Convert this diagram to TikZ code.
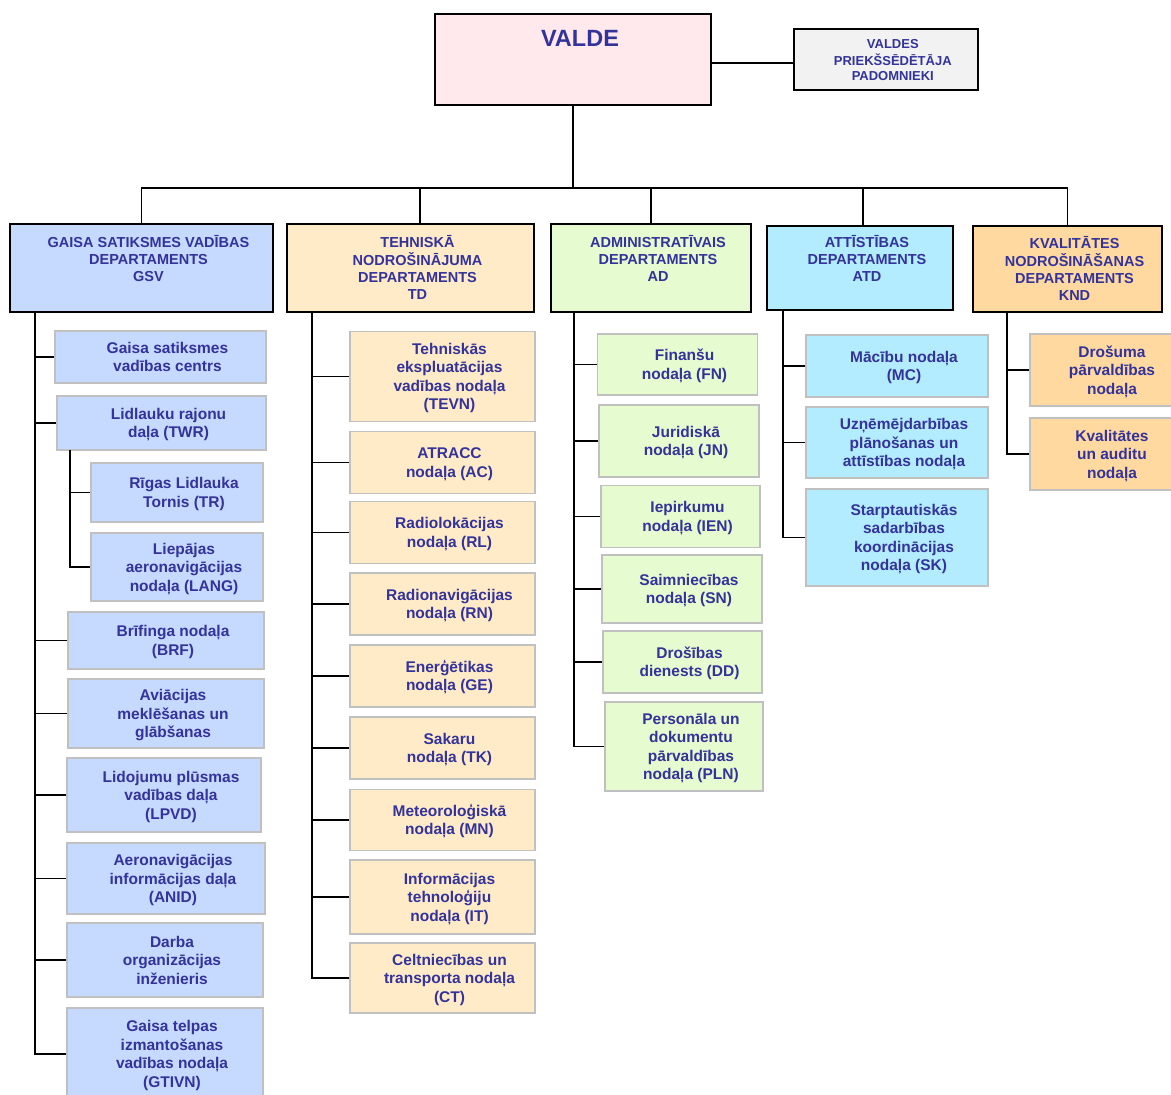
\documentclass[tikz,border=0pt]{standalone}
\usepackage{fontspec}
\setmainfont{Liberation Sans}
\usepackage{xcolor}
\usepackage{tikz}
\usetikzlibrary{positioning}
\definecolor{txtblue}{HTML}{333399}
\definecolor{valdepink}{HTML}{FFE9EC}
\definecolor{advgray}{HTML}{F2F2F2}
\definecolor{subgray}{HTML}{C0C0C0}
\definecolor{gsvblue}{HTML}{C6D9FF}
\definecolor{tdcream}{HTML}{FFEBC8}
\definecolor{adgreen}{HTML}{E6FBD0}
\definecolor{atdcyan}{HTML}{B3EBFF}
\definecolor{kndorange}{HTML}{FFD9A0}
\newcommand{\boxtext}[1]{\hspace*{14pt}\raisebox{-2pt}[\height][\depth]{\begin{tabular}{@{}c@{}}#1\end{tabular}}}
\tikzset{
	board/.style={draw=black, line width=1.8pt, fill=valdepink, text=txtblue, inner sep=0pt, minimum width=276, text height=32, text depth=59, font=\bfseries\fontsize{23.5}{26}\selectfont},
	advisor/.style={draw=black, line width=1.8pt, fill=advgray, text=txtblue, inner sep=0pt, minimum width=184, minimum height=61, font=\bfseries\fontsize{13}{15.5}\selectfont},
	dept/.style={draw=black, line width=1.8pt, fill=#1, text=txtblue, inner sep=0pt, minimum height=88, font=\bfseries\fontsize{14.5}{17}\selectfont},
	sub/.style={draw=subgray, line width=1.8pt, fill=#1, text=txtblue, inner sep=0pt, font=\bfseries\fontsize{15.5}{18.5}\selectfont},
	link/.style={draw=black, line width=1.6pt}
}

\begin{document}
\begin{tikzpicture}[x=1pt, y=-1pt]
			\useasboundingbox (0,0) rectangle (1171,1095);
			\clip (0,0) rectangle (1171,1095);
			
			\node[board] (valde) at (573,59.5) {\hspace*{14pt}VALDE};
			\node[advisor, right=81pt of valde] (adv) {\boxtext{VALDES\\PRIEKŠSĒDĒTĀJA\\PADOMNIEKI}};
			
			% departments
			\node[dept=gsvblue, minimum width=263] (gsv) at (141.5,268) {\boxtext{GAISA SATIKSMES VADĪBAS\\DEPARTAMENTS\\GSV\\\phantom{X}}};
			\node[dept=tdcream, minimum width=247] (td) at (410.5,268) {\boxtext{TEHNISKĀ\\NODROŠINĀJUMA\\DEPARTAMENTS\\TD}};
			\node[dept=adgreen, minimum width=200] (ad) at (651,268) {\boxtext{ADMINISTRATĪVAIS\\DEPARTAMENTS\\AD\\\phantom{X}}};
			\node[dept=atdcyan, minimum width=186, minimum height=84] (atd) at (860,268) {\boxtext{ATTĪSTĪBAS\\DEPARTAMENTS\\ATD\\\phantom{X}}};
			\node[dept=kndorange, minimum width=189, minimum height=86] (knd) at (1067.5,269) {\boxtext{KVALITĀTES\\NODROŠINĀŠANAS\\DEPARTAMENTS\\KND}};
			
			% GSV
			\node[sub=gsvblue, minimum width=211, minimum height=52] (gsvc) at (160.5,357) {\boxtext{Gaisa satiksmes\\vadības centrs}};
			\node[sub=gsvblue, minimum width=209, minimum height=54] (twr) at (161.5,423) {\boxtext{Lidlauku rajonu\\daļa (TWR)}};
			\node[sub=gsvblue, minimum width=172, minimum height=59] (tr) at (177,492.5) {\boxtext{Rīgas Lidlauka\\Tornis (TR)}};
			\node[sub=gsvblue, minimum width=172, minimum height=68, below=9pt of tr] (lang) {\boxtext{Liepājas\\aeronavigācijas\\nodaļa (LANG)}};
			\node[sub=gsvblue, minimum width=196, minimum height=57] (brf) at (166,640.5) {\boxtext{Brīfinga nodaļa\\(BRF)}};
			\node[sub=gsvblue, minimum width=196, minimum height=69] (ams) at (166,713.5) {\boxtext{Aviācijas\\meklēšanas un\\glābšanas}};
			\node[sub=gsvblue, minimum width=194, minimum height=74] (lpvd) at (164,795) {\boxtext{Lidojumu plūsmas\\vadības daļa\\(LPVD)}};
			\node[sub=gsvblue, minimum width=198, minimum height=71] (anid) at (166,878.5) {\boxtext{Aeronavigācijas\\informācijas daļa\\(ANID)}};
			\node[sub=gsvblue, minimum width=196, minimum height=74] (doi) at (165,960) {\boxtext{Darba\\organizācijas\\inženieris}};
			\node[sub=gsvblue, minimum width=196, minimum height=92] (gtivn) at (165,1054) {\boxtext{Gaisa telpas\\izmantošanas\\vadības nodaļa\\(GTIVN)}};
			
			% TD
			\node[sub=tdcream, minimum width=185, minimum height=90] (tevn) at (442.5,376.5) {\boxtext{Tehniskās\\ekspluatācijas\\vadības nodaļa\\(TEVN)}};
			\node[sub=tdcream, minimum width=185, minimum height=62] (ac) at (442.5,462.5) {\boxtext{ATRACC\\nodaļa (AC)}};
			\node[sub=tdcream, minimum width=185, minimum height=62] (rl) at (442.5,532.5) {\boxtext{Radiolokācijas\\nodaļa (RL)}};
			\node[sub=tdcream, minimum width=185, minimum height=62] (rn) at (442.5,604) {\boxtext{Radionavigācijas\\nodaļa (RN)}};
			\node[sub=tdcream, minimum width=185, minimum height=62] (ge) at (442.5,676) {\boxtext{Enerģētikas\\nodaļa (GE)}};
			\node[sub=tdcream, minimum width=185, minimum height=62] (tk) at (442.5,748) {\boxtext{Sakaru\\nodaļa (TK)}};
			\node[sub=tdcream, minimum width=185, minimum height=61] (mn) at (442.5,820) {\boxtext{Meteoroloģiskā\\nodaļa (MN)}};
			\node[sub=tdcream, minimum width=185, minimum height=74] (it) at (442.5,897) {\boxtext{Informācijas\\tehnoloģiju\\nodaļa (IT)}};
			\node[sub=tdcream, minimum width=185, minimum height=70] (ct) at (442.5,978) {\boxtext{Celtniecības un\\transporta nodaļa\\(CT)}};
			
			% AD
			\node[sub=adgreen, minimum width=160, minimum height=61] (fn) at (677.5,364.5) {\boxtext{Finanšu\\nodaļa (FN)}};
			\node[sub=adgreen, minimum width=160, minimum height=72] (jn) at (679,441) {\boxtext{Juridiskā\\nodaļa (JN)}};
			\node[sub=adgreen, minimum width=159, minimum height=62] (ien) at (680.5,516.5) {\boxtext{Iepirkumu\\nodaļa (IEN)}};
			\node[sub=adgreen, minimum width=160, minimum height=68] (sn) at (682,589) {\boxtext{Saimniecības\\nodaļa (SN)}};
			\node[sub=adgreen, minimum width=159, minimum height=62] (dd) at (682.5,662) {\boxtext{Drošības\\dienests (DD)}};
			\node[sub=adgreen, minimum width=158, minimum height=89] (pln) at (684,746.5) {\boxtext{Personāla un\\dokumentu\\pārvaldības\\nodaļa (PLN)}};
			
			% ATD
			\node[sub=atdcyan, minimum width=182, minimum height=62] (mc) at (897,366) {\boxtext{Mācību nodaļa\\(MC)}};
			\node[sub=atdcyan, minimum width=182, minimum height=71] (upa) at (897,442.5) {\boxtext{Uzņēmējdarbības\\plānošanas un\\attīstības nodaļa}};
			\node[sub=atdcyan, minimum width=182, minimum height=97] (sk) at (897,537.5) {\boxtext{Starptautiskās\\sadarbības\\koordinācijas\\nodaļa (SK)}};
			
			% KND
			\node[sub=kndorange, minimum width=150, minimum height=72] (dpn) at (1105,370) {\boxtext{Drošuma\\pārvaldības\\nodaļa}};
			\node[sub=kndorange, minimum width=150, minimum height=72] (kan) at (1105,454) {\boxtext{Kvalitātes\\un auditu\\nodaļa}};
			
			% connectors
			\coordinate (bus) at (573,188);
			\coordinate (gsvbus) at (35,312);
			\coordinate (twrbus) at (70,450);
			\coordinate (tdbus) at (312,312);
			\coordinate (adbus) at (574,312);
			\coordinate (atdbus) at (783,310);
			\coordinate (kndbus) at (1007,312);
			
			\draw[link] ([yshift=-3.5pt]valde.east) -- ([yshift=-3.5pt]adv.west);
			\draw[link] (valde.south) -- (bus);
			\draw[link] (bus) -| (gsv.north);
			\draw[link] (bus) -| ([xshift=9.5pt]td.north);
			\draw[link] (bus) -| (ad.north);
			\draw[link] (bus) -| ([xshift=3pt]atd.north);
			\draw[link] (bus) -| (knd.north);
			
			\foreach \n in {gsvc,twr,brf,ams,lpvd,anid,doi,gtivn} \draw[link] (gsvbus) |- (\n.west);
			\foreach \n in {tr,lang} \draw[link] (twrbus) |- (\n.west);
			\foreach \n in {tevn,ac,rl,rn,ge,tk,mn,it,ct} \draw[link] (tdbus) |- (\n.west);
			\foreach \n in {fn,jn,ien,sn,dd,pln} \draw[link] (adbus) |- (\n.west);
			\foreach \n in {mc,upa,sk} \draw[link] (atdbus) |- (\n.west);
			\foreach \n in {dpn,kan} \draw[link] (kndbus) |- (\n.west);
			
\end{tikzpicture}
\end{document}
